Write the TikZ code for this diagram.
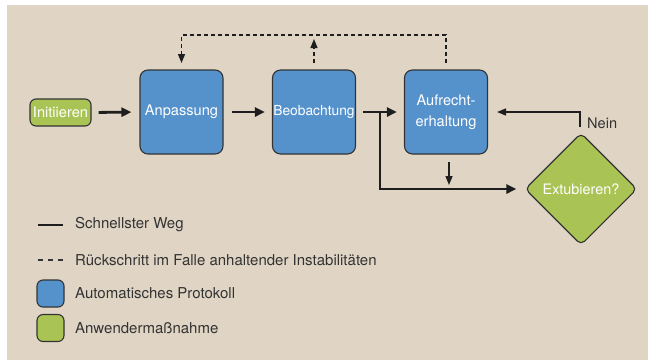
\documentclass[tikz,border=0pt]{standalone}
\usepackage{fontspec}
\setmainfont{TeX Gyre Heros}
\usetikzlibrary{arrows.meta,shapes.geometric}
\definecolor{bg}{HTML}{E0D5C4}
\definecolor{boxblue}{HTML}{5592CC}
\definecolor{boxgreen}{HTML}{A9C455}
\definecolor{edge}{HTML}{333333}
\definecolor{ink}{HTML}{1E1E1E}
\tikzset{
  procbox/.style={draw=edge, line width=1.1pt, fill=boxblue, rounded corners=8pt,
    minimum width=83pt, minimum height=84pt, inner sep=0pt, text=white,
    font=\fontsize{14.6}{21}\selectfont, align=center},
  userbox/.style={draw=edge, line width=1.1pt, fill=boxgreen, rounded corners=6pt,
    minimum width=61pt, minimum height=27pt, inner sep=0pt, text=white,
    font=\fontsize{14.6}{17}\selectfont},
  decbox/.style={draw=edge, line width=1.1pt, fill=boxgreen, diamond, rounded corners=5pt,
    minimum width=112pt, minimum height=112pt, inner sep=0pt, text=white,
    font=\fontsize{14.4}{17}\selectfont},
  fastpath/.style={draw=ink, line width=2.8pt, -{Triangle[length=10pt,width=9pt]}},
  fastline/.style={draw=ink, line width=2.8pt},
  thinpath/.style={draw=ink, line width=1.4pt, -{Triangle[length=9pt,width=7pt]}},
  backpath/.style={draw=ink, line width=1.2pt, dash pattern=on 4pt off 3pt, -{Triangle[length=9pt,width=7pt]}},
  legtext/.style={anchor=west, text=edge, font=\fontsize{15}{17}\selectfont, inner sep=0pt},
  legbox/.style={draw=edge, line width=1.1pt, rounded corners=6pt, minimum width=27pt, minimum height=27pt, inner sep=0pt}
}
\begin{document}
\begin{tikzpicture}[x=1pt,y=-1pt]
\useasboundingbox (0,0) rectangle (648,360);
\fill[bg] (7,5) rectangle (648,360);

\node[userbox] (init) at (60.5,112.5) {Initiieren};
\node[procbox] (anp) at (181.5,112) {Anpassung};
\node[procbox] (beob) at (314,112) {\fontsize{13.8}{17}\selectfont Beobachtung};
\node[procbox] (auf) at (446,112) {Aufrecht-\\erhaltung};
\node[decbox] (dia) at (581,189) {Extubieren?};

% fastest path
\draw[fastpath, shorten <=7pt, shorten >=8pt] (init.east) -- (anp.west);
\draw[fastpath, shorten <=8pt, shorten >=7pt] (anp.east) -- (beob.west);
\draw[fastpath, shorten <=7pt, shorten >=7pt] (beob.east) -- (auf.west);
\coordinate (split) at (380,112);
\draw[fastpath, shorten >=8pt] (split) |- (dia.west);

% Aufrechterhaltung down to decision path
\coordinate (audown) at (449,162);
\coordinate (auend) at (449,185);
\draw[thinpath] (audown) -- (auend);

% Nein loop
\coordinate (neinstart) at (580,127);
\draw[thinpath, shorten >=9pt] (neinstart) |- (auf.east);
\node[anchor=west, text=edge, font=\fontsize{14.6}{17}\selectfont, inner sep=0pt] (nein) at (587,123) {Nein};

% setbacks (dashed)
\coordinate (aufup) at (446,63);
\coordinate (anpup) at (181.5,63);
\draw[backpath] (aufup) -- (446,35) -| (anpup);
\coordinate (beobup) at (314,63);
\coordinate (beobtip) at (314,39);
\draw[backpath] (beobup) -- (beobtip);

% legend
\coordinate (l1a) at (38,225); \coordinate (l1b) at (63,225);
\draw[fastline] (l1a) -- (l1b);
\node[legtext] (t1) at (75,225) {Schnellster Weg};
\coordinate (l2a) at (38,260); \coordinate (l2b) at (63,260);
\draw[draw=edge, line width=1.1pt, dash pattern=on 5pt off 5pt] (l2a) -- (l2b);
\node[legtext] (t2) at (75,260) {Rückschritt im Falle anhaltender Instabilitäten};
\node[legbox, fill=boxblue] (lb) at (50.5,293.5) {};
\node[legtext] (t3) at (75,293) {Automatisches Protokoll};
\node[legbox, fill=boxgreen] (lg) at (50.5,328) {};
\node[legtext] (t4) at (75,328) {Anwendermaßnahme};
\end{tikzpicture}
\end{document}
